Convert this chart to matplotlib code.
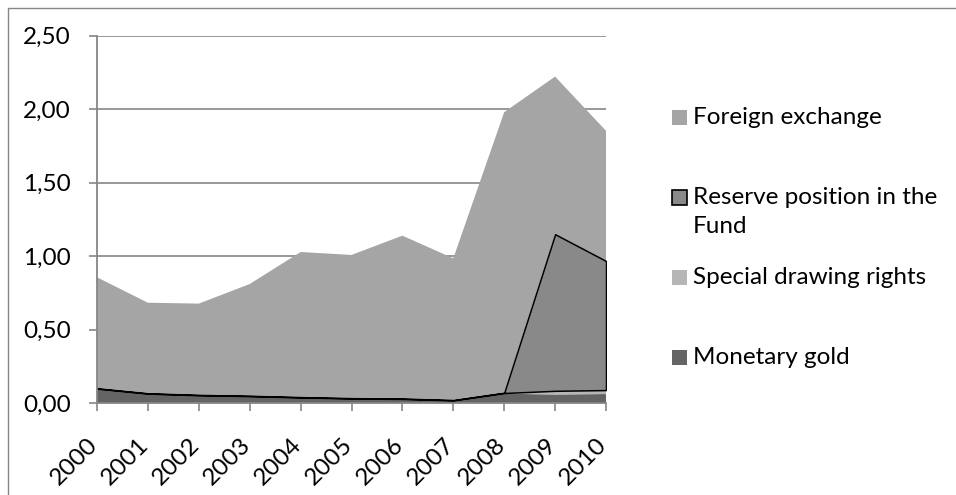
import matplotlib
matplotlib.use("Agg")
import matplotlib.pyplot as plt
import matplotlib.transforms as mtransforms
from matplotlib.patches import Rectangle

# Reserve assets, stacked by component
years = [2000, 2001, 2002, 2003, 2004, 2005, 2006, 2007, 2008, 2009, 2010]
monetary_gold = [0.100, 0.066, 0.055, 0.049, 0.040, 0.033, 0.030, 0.020, 0.065, 0.060, 0.063]
special_drawing_rights = [0.000, 0.000, 0.000, 0.000, 0.000, 0.000, 0.000, 0.000, 0.005, 0.025, 0.027]
reserve_position = [0.002, 0.002, 0.002, 0.002, 0.002, 0.002, 0.002, 0.002, 0.002, 1.065, 0.878]
foreign_exchange = [0.755, 0.616, 0.621, 0.760, 0.987, 0.974, 1.108, 0.964, 1.908, 1.072, 0.885]

y_ticks = [0.0, 0.5, 1.0, 1.5, 2.0, 2.5]
y_tick_labels = ["0,00", "0,50", "1,00", "1,50", "2,00", "2,50"]
x_tick_labels = [str(y) for y in years]

legend_labels = ["Foreign exchange", "Reserve position in the\nFund",
                 "Special drawing rights", "Monetary gold"]

C_FX = "#a5a5a5"
C_RES = "#898989"
C_SDR = "#b6b6b6"
C_GOLD = "#646464"
C_AXIS = "#868686"

plt.rcParams["font.family"] = ["Lato", "DejaVu Sans"]
FS = 17.5

W, H = 956, 495
fig = plt.figure(figsize=(W / 100, H / 100), dpi=100)
fig.patch.set_facecolor("white")

# chart area outline
fig.add_artist(Rectangle((7.5 / W, -0.1), 1.2, (H - 7.5) / H + 0.1,
                         transform=fig.transFigure, fill=False,
                         edgecolor=C_AXIS, linewidth=1.0))

ax = fig.add_axes([97 / W, (H - 403.3) / H, (606 - 97) / W, (403.3 - 35.7) / H])

polys = ax.stackplot(years, monetary_gold, special_drawing_rights,
                     reserve_position, foreign_exchange,
                     colors=[C_GOLD, C_SDR, C_RES, C_FX], linewidth=0)
polys[2].set_edgecolor("black")
polys[2].set_linewidth(1.1)
polys[2].set_zorder(3)

ax.set_xlim(2000, 2010)
ax.set_ylim(0, 2.5)
ax.set_axisbelow(True)
ax.yaxis.grid(True, color=C_AXIS, linewidth=1.2)
ax.xaxis.grid(False)

for s in ("top", "right"):
    ax.spines[s].set_visible(False)
for s in ("left", "bottom"):
    ax.spines[s].set_color(C_AXIS)
    ax.spines[s].set_linewidth(1.3)
    ax.spines[s].set_zorder(4)

ax.set_yticks(y_ticks)
ax.set_yticklabels(y_tick_labels)
ax.set_xticks(years)
ax.set_xticklabels(x_tick_labels, rotation=45, ha="right", va="top")

ax.tick_params(axis="y", direction="out", length=6, width=1.2, color=C_AXIS,
               labelsize=FS, pad=13, labelcolor="black")
ax.tick_params(axis="x", direction="out", length=6, width=1.2, color=C_AXIS,
               labelsize=FS, pad=16, labelcolor="black")

shift = mtransforms.ScaledTranslation(5 / 100, 0, fig.dpi_scale_trans)
for lab in ax.get_xticklabels():
    lab.set_transform(lab.get_transform() + shift)

# legend entries on the right
def px(x, y):
    return x / W, (H - y) / H

entries = [
    (legend_labels[0], C_FX, None, 117, 117),
    (legend_labels[1], C_RES, "black", 197, 212),
    (legend_labels[2], C_SDR, None, 277, 277),
    (legend_labels[3], C_GOLD, None, 357, 357),
]
for text, color, edge, y_box, y_text in entries:
    x0, y0 = px(672, y_box + 7.5)
    fig.add_artist(Rectangle((x0, y0), 15 / W, 15 / H, transform=fig.transFigure,
                             facecolor=color,
                             edgecolor=edge if edge else color,
                             linewidth=1.2 if edge else 0))
    tx, ty = px(693, y_text)
    fig.text(tx, ty, text, fontsize=FS, va="center", ha="left",
             linespacing=1.45, color="black")

fig.savefig("out.png", dpi=100)
